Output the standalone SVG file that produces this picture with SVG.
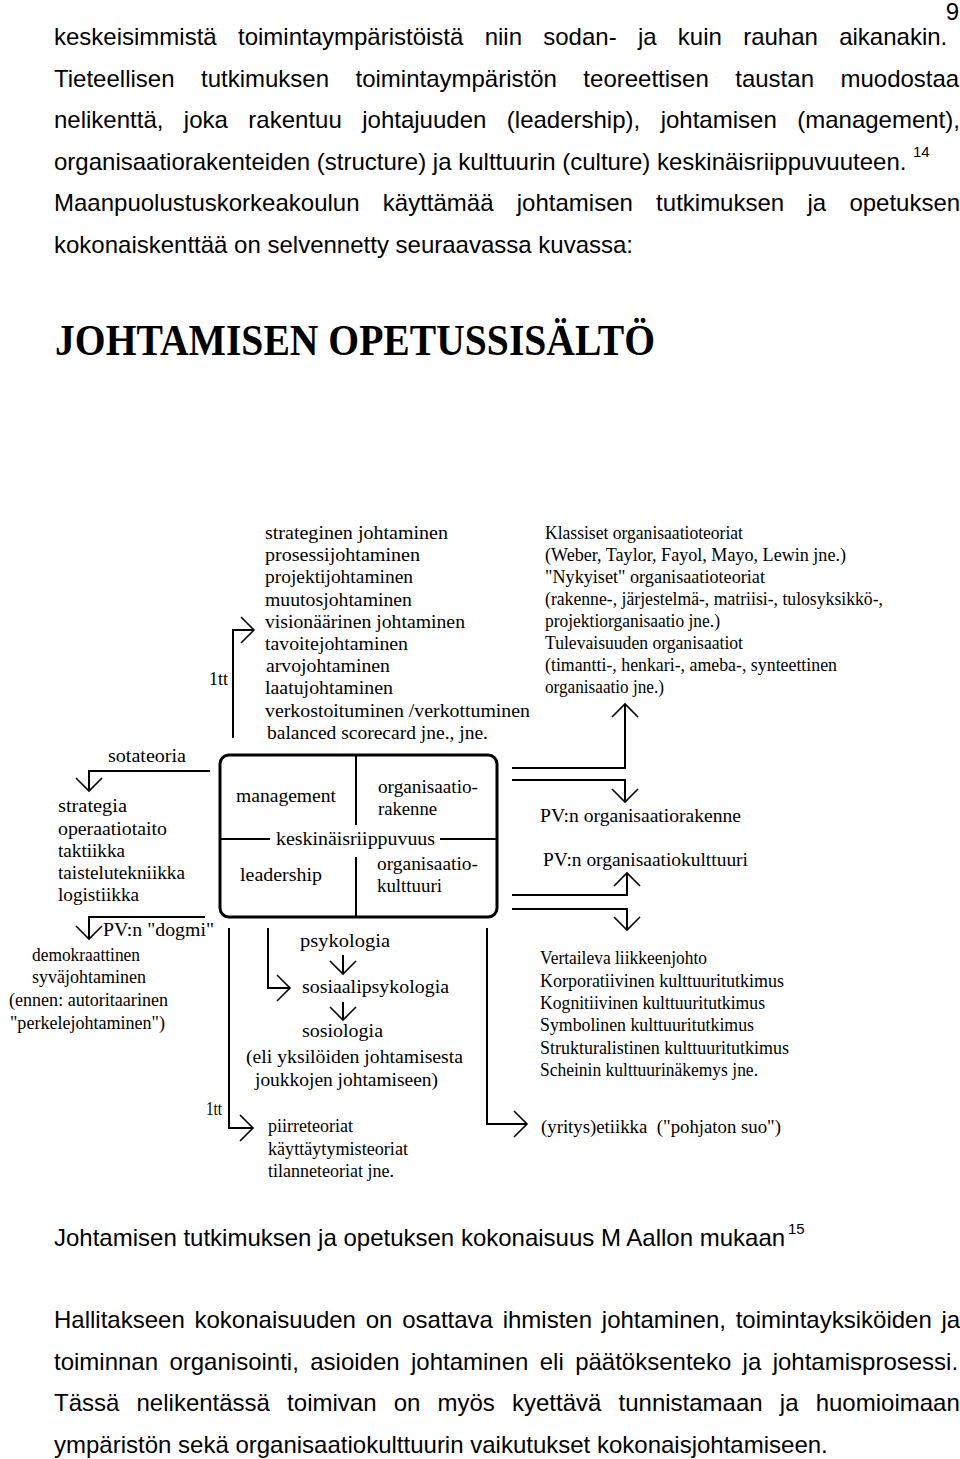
<svg xmlns="http://www.w3.org/2000/svg" width="960" height="1459" viewBox="0 0 960 1459">
<style>
.p{font-family:"Liberation Sans",Arial,sans-serif;font-size:24px;fill:#000}
.sup{font-family:"Liberation Sans",Arial,sans-serif;font-size:15px;fill:#000}
.d{font-family:"Liberation Serif","Times New Roman",serif;font-size:19px;fill:#000}
.t{font-family:"Liberation Serif","Times New Roman",serif;font-size:44px;font-weight:bold;fill:#000}
.ln{stroke:#000;stroke-width:2;fill:none}
.bx{stroke:#000;stroke-width:3;fill:none}
</style>
<defs>
<marker id="ah" viewBox="-15 -15 30 30" markerWidth="30" markerHeight="30" markerUnits="userSpaceOnUse" refX="0" refY="0" orient="auto">
<path d="M-13,-13 L0,0 L-13,13" stroke="#000" stroke-width="1.6" fill="none"/>
</marker>
</defs>
<rect width="960" height="1459" fill="#fff"/>

<g id="page-text">
<text class="p" x="959" y="20" text-anchor="end">9</text>
<text class="p" x="54" y="45" word-spacing="14.6">keskeisimmistä toimintaympäristöistä niin sodan- ja kuin rauhan aikanakin.</text>
<text class="p" x="54" y="86.5" word-spacing="19.8">Tieteellisen tutkimuksen toimintaympäristön teoreettisen taustan muodostaa</text>
<text class="p" x="54" y="128" word-spacing="13.8">nelikenttä, joka rakentuu johtajuuden (leadership), johtamisen (management),</text>
<text class="p" x="54" y="169.5">organisaatiorakenteiden (structure) ja kulttuurin (culture) keskinäisriippuvuuteen.</text>
<text class="sup" x="913" y="157">14</text>
<text class="p" x="54" y="211" word-spacing="16.6">Maanpuolustuskorkeakoulun käyttämää johtamisen tutkimuksen ja opetuksen</text>
<text class="p" x="54" y="252.5">kokonaiskenttää on selvennetty seuraavassa kuvassa:</text>
<text class="p" x="54" y="1246">Johtamisen tutkimuksen ja opetuksen kokonaisuus M Aallon mukaan</text>
<text class="sup" x="788" y="1234">15</text>
<text class="p" x="54" y="1328" word-spacing="3.1">Hallitakseen kokonaisuuden on osattava ihmisten johtaminen, toimintayksiköiden ja</text>
<text class="p" x="54" y="1369.5" word-spacing="4.7">toiminnan organisointi, asioiden johtaminen eli päätöksenteko ja johtamisprosessi.</text>
<text class="p" x="54" y="1411" word-spacing="10.5">Tässä nelikentässä toimivan on myös kyettävä tunnistamaan ja huomioimaan</text>
<text class="p" x="54" y="1452.5">ympäristön sekä organisaatiokulttuurin vaikutukset kokonaisjohtamiseen.</text>
</g>

<g id="title">
<text class="t" x="55" y="355" textLength="600" lengthAdjust="spacingAndGlyphs">JOHTAMISEN OPETUSSISÄLTÖ</text>
</g>

<g id="connectors">
<path class="ln" d="M233,738 V630 H254" marker-end="url(#ah)"/>
<path class="ln" d="M210,771 H89 V791" marker-end="url(#ah)"/>
<path class="ln" d="M205,917 H89 V939" marker-end="url(#ah)"/>
<path class="ln" d="M229,928 V1128 H253" marker-end="url(#ah)"/>
<path class="ln" d="M268,928 V988 H290" marker-end="url(#ah)"/>
<path class="ln" d="M343,955 V974" marker-end="url(#ah)"/>
<path class="ln" d="M343,1002 V1020" marker-end="url(#ah)"/>
<path class="ln" d="M487,928 V1124 H527" marker-end="url(#ah)"/>
<path class="ln" d="M512,768 H625 V704" marker-end="url(#ah)"/>
<path class="ln" d="M512,780 H625 V802" marker-end="url(#ah)"/>
<path class="ln" d="M512,895 H627 V873" marker-end="url(#ah)"/>
<path class="ln" d="M512,909 H627 V930" marker-end="url(#ah)"/>
<text class="d" x="209" y="685" textLength="19" lengthAdjust="spacingAndGlyphs">1tt</text>
<text class="d" x="206" y="1115" textLength="16" lengthAdjust="spacingAndGlyphs">1tt</text>
<text class="d" x="108" y="762" textLength="78" lengthAdjust="spacingAndGlyphs">sotateoria</text>
<text class="d" x="103" y="936" textLength="111" lengthAdjust="spacingAndGlyphs">PV:n "dogmi"</text>
</g>

<g id="central-box">
<rect class="bx" x="220" y="755" width="277" height="162" rx="9"/>
<path class="ln" d="M356,755 V825 M356,857 V917 M220,839 H270 M440,839 H497"/>
<text class="d" x="236" y="802" textLength="100" lengthAdjust="spacingAndGlyphs">management</text>
<text class="d" x="378" y="793" textLength="100" lengthAdjust="spacingAndGlyphs">organisaatio-</text>
<text class="d" x="378" y="815" textLength="59" lengthAdjust="spacingAndGlyphs">rakenne</text>
<text class="d" x="276" y="845" textLength="159" lengthAdjust="spacingAndGlyphs">keskinäisriippuvuus</text>
<text class="d" x="240" y="881" textLength="82" lengthAdjust="spacingAndGlyphs">leadership</text>
<text class="d" x="377" y="870" textLength="101" lengthAdjust="spacingAndGlyphs">organisaatio-</text>
<text class="d" x="377" y="892" textLength="65" lengthAdjust="spacingAndGlyphs">kulttuuri</text>
</g>

<g id="johtaminen-list">
<text class="d" x="265" y="539" textLength="183" lengthAdjust="spacingAndGlyphs">strateginen johtaminen</text>
<text class="d" x="265" y="561" textLength="155" lengthAdjust="spacingAndGlyphs">prosessijohtaminen</text>
<text class="d" x="265" y="583" textLength="148" lengthAdjust="spacingAndGlyphs">projektijohtaminen</text>
<text class="d" x="265" y="606" textLength="147" lengthAdjust="spacingAndGlyphs">muutosjohtaminen</text>
<text class="d" x="265" y="628" textLength="200" lengthAdjust="spacingAndGlyphs">visionäärinen johtaminen</text>
<text class="d" x="265" y="650" textLength="143" lengthAdjust="spacingAndGlyphs">tavoitejohtaminen</text>
<text class="d" x="266" y="672" textLength="124" lengthAdjust="spacingAndGlyphs">arvojohtaminen</text>
<text class="d" x="265" y="694" textLength="128" lengthAdjust="spacingAndGlyphs">laatujohtaminen</text>
<text class="d" x="265" y="717" textLength="265" lengthAdjust="spacingAndGlyphs">verkostoituminen /verkottuminen</text>
<text class="d" x="267" y="739" textLength="221" lengthAdjust="spacingAndGlyphs">balanced scorecard jne., jne.</text>
</g>

<g id="organisaatio-list">
<text class="d" x="545" y="539" textLength="198" lengthAdjust="spacingAndGlyphs">Klassiset organisaatioteoriat</text>
<text class="d" x="545" y="561" textLength="301" lengthAdjust="spacingAndGlyphs">(Weber, Taylor, Fayol, Mayo, Lewin jne.)</text>
<text class="d" x="545" y="583" textLength="220" lengthAdjust="spacingAndGlyphs">"Nykyiset" organisaatioteoriat</text>
<text class="d" x="545" y="605" textLength="338" lengthAdjust="spacingAndGlyphs">(rakenne-, järjestelmä-, matriisi-, tulosyksikkö-,</text>
<text class="d" x="545" y="627" textLength="175" lengthAdjust="spacingAndGlyphs">projektiorganisaatio jne.)</text>
<text class="d" x="545" y="649" textLength="198" lengthAdjust="spacingAndGlyphs">Tulevaisuuden organisaatiot</text>
<text class="d" x="545" y="671" textLength="292" lengthAdjust="spacingAndGlyphs">(timantti-, henkari-, ameba-, synteettinen</text>
<text class="d" x="545" y="693" textLength="119" lengthAdjust="spacingAndGlyphs">organisaatio jne.)</text>
</g>

<g id="pv-organisaatio">
<text class="d" x="540" y="822" textLength="201" lengthAdjust="spacingAndGlyphs">PV:n organisaatiorakenne</text>
<text class="d" x="543" y="866" textLength="205" lengthAdjust="spacingAndGlyphs">PV:n organisaatiokulttuuri</text>
</g>

<g id="sota-list">
<text class="d" x="58" y="812" textLength="69" lengthAdjust="spacingAndGlyphs">strategia</text>
<text class="d" x="58" y="835" textLength="109" lengthAdjust="spacingAndGlyphs">operaatiotaito</text>
<text class="d" x="58" y="857" textLength="67" lengthAdjust="spacingAndGlyphs">taktiikka</text>
<text class="d" x="58" y="879" textLength="127" lengthAdjust="spacingAndGlyphs">taistelutekniikka</text>
<text class="d" x="58" y="901" textLength="81" lengthAdjust="spacingAndGlyphs">logistiikka</text>
</g>

<g id="dogmi-list">
<text class="d" x="32" y="961" textLength="108" lengthAdjust="spacingAndGlyphs">demokraattinen</text>
<text class="d" x="32" y="983" textLength="114" lengthAdjust="spacingAndGlyphs">syväjohtaminen</text>
<text class="d" x="9" y="1006" textLength="159" lengthAdjust="spacingAndGlyphs">(ennen: autoritaarinen</text>
<text class="d" x="10" y="1029" textLength="155" lengthAdjust="spacingAndGlyphs">"perkelejohtaminen")</text>
</g>

<g id="psykologia-chain">
<text class="d" x="300" y="947" textLength="90" lengthAdjust="spacingAndGlyphs">psykologia</text>
<text class="d" x="302" y="993" textLength="147" lengthAdjust="spacingAndGlyphs">sosiaalipsykologia</text>
<text class="d" x="302" y="1037" textLength="81" lengthAdjust="spacingAndGlyphs">sosiologia</text>
<text class="d" x="246" y="1063" textLength="217" lengthAdjust="spacingAndGlyphs">(eli yksilöiden johtamisesta</text>
<text class="d" x="255" y="1086" textLength="183" lengthAdjust="spacingAndGlyphs">joukkojen johtamiseen)</text>
</g>

<g id="teoriat-list">
<text class="d" x="268" y="1132" textLength="85" lengthAdjust="spacingAndGlyphs">piirreteoriat</text>
<text class="d" x="268" y="1155" textLength="140" lengthAdjust="spacingAndGlyphs">käyttäytymisteoriat</text>
<text class="d" x="268" y="1177" textLength="126" lengthAdjust="spacingAndGlyphs">tilanneteoriat jne.</text>
</g>

<g id="kulttuuri-list">
<text class="d" x="540" y="964" textLength="167" lengthAdjust="spacingAndGlyphs">Vertaileva liikkeenjohto</text>
<text class="d" x="540" y="987" textLength="244" lengthAdjust="spacingAndGlyphs">Korporatiivinen kulttuuritutkimus</text>
<text class="d" x="540" y="1009" textLength="225" lengthAdjust="spacingAndGlyphs">Kognitiivinen kulttuuritutkimus</text>
<text class="d" x="540" y="1031" textLength="214" lengthAdjust="spacingAndGlyphs">Symbolinen kulttuuritutkimus</text>
<text class="d" x="540" y="1054" textLength="249" lengthAdjust="spacingAndGlyphs">Strukturalistinen kulttuuritutkimus</text>
<text class="d" x="540" y="1076" textLength="218" lengthAdjust="spacingAndGlyphs">Scheinin kulttuurinäkemys jne.</text>
</g>

<g id="etiikka">
<text class="d" x="541" y="1133" textLength="240" lengthAdjust="spacingAndGlyphs" xml:space="preserve">(yritys)etiikka  ("pohjaton suo")</text>
</g>
</svg>
